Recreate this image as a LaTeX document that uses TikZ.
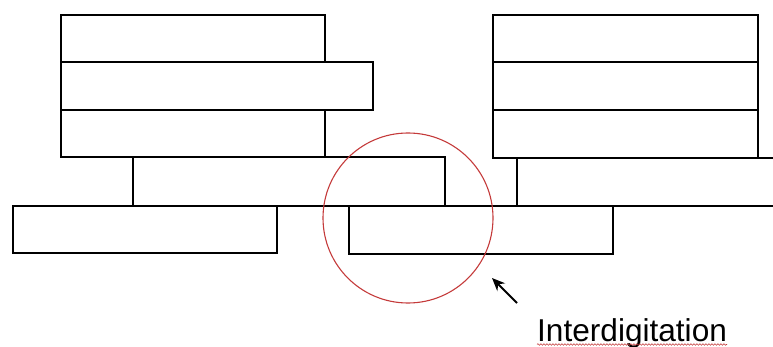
\documentclass[tikz,border=0pt]{standalone}
\usepackage{fontspec}
\setmainfont{Liberation Sans}
\usetikzlibrary{arrows.meta,decorations.pathmorphing}
\definecolor{ringred}{RGB}{196,58,58}
\begin{document}
\begin{tikzpicture}[x=1pt,y=-1pt,
  wall/.style={draw=black,line width=1.4pt},
  ring/.style={draw=ringred,line width=1.1pt},
  pointer/.style={line width=1.8pt,-{Stealth[length=13pt,width=11pt]}},
  label/.style={inner sep=0pt,anchor=base west,font=\fontsize{31.6}{36}\selectfont}]
\useasboundingbox (0,0) rectangle (773,347);
% left stack
\draw[wall] (61,15) rectangle (325,62);
\draw[wall] (61,62) rectangle (373,110);
\draw[wall] (61,110) rectangle (325,157);
\draw[wall] (133,157) rectangle (445,206);
\draw[wall] (13,206) rectangle (277,253);
% long base line
\draw[wall] (277,206) -- (773,206);
\draw[wall] (349,206) rectangle (613,254);
% right stack
\draw[wall] (493,15) rectangle (758,62);
\draw[wall] (493,62) rectangle (758,110);
\draw[wall] (493,110) rectangle (758,158);
\draw[wall] (758,158) -- (773,158);
\draw[wall] (517,206) -- (517,158);
% interdigitation ring, arrow and label
\node[ring,circle,minimum size=170pt,inner sep=0pt] (ring) at (408,218) {};
\coordinate (tail) at (517,303);
\coordinate (tip) at (492,278);
\draw[pointer] (tail) -- (tip);
\node[label] (lab) at (537,341) {Interdigitation};
\draw[ringred,line width=0.6pt,decorate,decoration={snake,amplitude=0.8pt,segment length=3pt}] (lab.base west) ++(0,3.5) -- ++(190,0);
\end{tikzpicture}
\end{document}
